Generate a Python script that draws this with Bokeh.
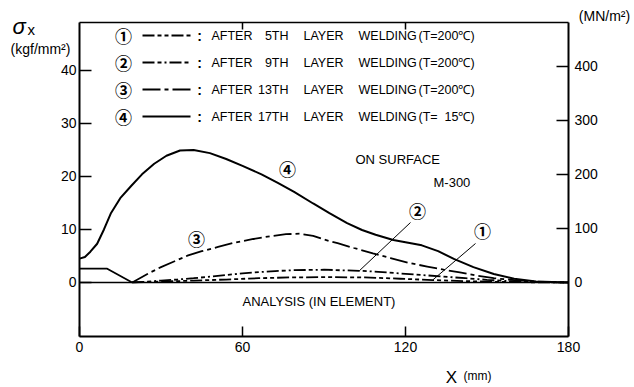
from bokeh.plotting import figure
from bokeh.models import Range1d, LinearAxis, FixedTicker, Label
from bokeh.embed import file_html
from bokeh.resources import INLINE

# Residual stress sigma_x (kgf/mm^2) along X (mm), M-300, on surface
initial_x = [0, 10.2, 19.4]
initial_y = [2.6, 2.6, 0.0]

x5 = [19.4, 30, 42, 54, 66, 78, 92, 105, 118, 130, 142, 155, 168, 180]
y5 = [0, 0.15, 0.35, 0.55, 0.8, 0.95, 1.0, 0.95, 0.7, 0.45, 0.25, 0.1, 0.03, 0]

x9 = [19.4, 25, 30, 36, 42, 48, 54, 60, 66, 72, 78, 84, 90, 96, 103, 110, 118,
      126, 134, 142, 150, 158, 166, 173, 180]
y9 = [0, 0.15, 0.35, 0.55, 0.8, 1.1, 1.4, 1.7, 1.95, 2.15, 2.3, 2.35, 2.4, 2.3,
      2.2, 2.0, 1.7, 1.4, 1.1, 0.8, 0.5, 0.25, 0.1, 0.04, 0]

x13 = [19.4, 25, 30, 35, 40, 45, 51, 57, 64, 70, 76, 81, 86, 90, 95, 101, 108,
       114.5, 121, 128, 134, 140, 146, 152.5, 160, 167, 174, 180]
y13 = [0, 1.6, 2.9, 4.0, 5.1, 5.9, 6.7, 7.5, 8.2, 8.7, 9.1, 9.2, 8.8, 8.1, 7.4,
       6.5, 5.5, 4.6, 3.7, 3.0, 2.4, 1.9, 1.3, 0.8, 0.45, 0.2, 0.07, 0]

x17 = [0, 2, 4, 6.5, 9, 11.5, 15, 19, 23, 27.5, 32, 37, 42, 48, 54, 60, 67, 73,
       79, 86, 92, 98.5, 104, 109, 115.5, 121, 126, 132, 138, 145, 152.5, 160,
       168, 180]
y17 = [4.5, 4.8, 5.8, 7.3, 10.0, 13.0, 15.9, 18.2, 20.4, 22.4, 23.9, 24.9, 25.0,
       24.4, 23.3, 22.0, 20.4, 18.8, 17.1, 14.9, 13.1, 11.2, 9.9, 9.0, 8.0, 7.5,
       7.0, 5.9, 4.4, 2.9, 1.6, 0.7, 0.2, 0]

circled = ["①", "②", "③", "④"]
layers = ["5TH", "9TH", "13TH", "17TH"]
temps = ["(T=200℃)", "(T=200℃)", "(T=200℃)", "(T=\u00a0\u00a015℃)"]
dashes = ["12 3 4 3 4 3", "12 3 4 3 2 3", "18 4 4 4", "solid"]

x_ticks = [0, 60, 120, 180]
y_ticks = [0, 10, 20, 30, 40]
mn_ticks = [0, 100, 200, 300, 400]
KGF_TO_MN = 9.8

# page geometry: the plotting box sits at px 79..568 x 22..336
W, H = 634, 387
BOX_L, BOX_R, BOX_T, BOX_B = 79, 568, 22, 336
X_MIN, X_MAX = 0, 180
Y_MIN, Y_MAX = -10.2, 49.05
FONT = "Liberation Sans"
CIRC_FONT = "Noto Sans CJK JP"


def dx(px):
    return X_MIN + (px - BOX_L) * (X_MAX - X_MIN) / (BOX_R - BOX_L)


def dy(py):
    return Y_MAX - (py - BOX_T) * (Y_MAX - Y_MIN) / (BOX_B - BOX_T)


# the frame fills the whole canvas; axes are pinned at the box edges
p = figure(width=W, height=H, output_backend="svg", toolbar_location=None,
           x_range=Range1d(dx(0), dx(W)), y_range=Range1d(dy(H), dy(0)),
           x_axis_type=None, y_axis_type=None,
           min_border_left=0, min_border_right=0, min_border_top=0,
           min_border_bottom=0)
p.background_fill_color = "white"
p.border_fill_color = "white"
p.outline_line_color = None
p.xgrid.visible = False
p.ygrid.visible = False
p.extra_y_ranges = {"mn": Range1d(dy(H) * KGF_TO_MN, dy(0) * KGF_TO_MN)}


def make_axis(ticks, tick_in, standoff, fixed, bounds, size="14px", width=2, **kw):
    ax = LinearAxis(ticker=FixedTicker(ticks=ticks), fixed_location=fixed,
                    bounds=bounds, **kw)
    ax.major_tick_in = tick_in
    ax.major_tick_out = 0
    ax.minor_tick_in = 0
    ax.minor_tick_out = 0
    ax.axis_line_width = width
    ax.axis_line_color = "black"
    ax.major_tick_line_width = 1.5
    ax.major_tick_line_color = "black"
    ax.major_label_standoff = standoff
    ax.major_label_text_font = FONT
    ax.major_label_text_font_size = size
    ax.major_label_text_color = "black"
    return ax


p.add_layout(make_axis(x_ticks, 10, 5, Y_MIN, (X_MIN, X_MAX)), "below")
p.add_layout(make_axis(y_ticks, 12, 3, X_MIN, (Y_MIN, Y_MAX)), "left")
p.add_layout(make_axis(mn_ticks, 12, 6, X_MAX,
                       (Y_MIN * KGF_TO_MN, Y_MAX * KGF_TO_MN),
                       y_range_name="mn"), "right")

# top edge of the box with short inward ticks at the inner x ticks
p.line([X_MIN, X_MAX], [Y_MAX, Y_MAX], line_color="black", line_width=1.5)
inner = x_ticks[1:-1]
p.segment(x0=inner, y0=[Y_MAX] * len(inner), x1=inner,
          y1=[dy(BOX_T + 7)] * len(inner), line_color="black", line_width=1.5)

# zero line
p.line([X_MIN, X_MAX], [0, 0], line_color="black", line_width=1.5)

# curves
p.line(initial_x, initial_y, line_color="black", line_width=1.8)
p.line(x5, y5, line_color="black", line_width=1.8, line_dash=dashes[0])
p.line(x9, y9, line_color="black", line_width=1.8, line_dash=dashes[1])
p.line(x13, y13, line_color="black", line_width=1.8, line_dash=dashes[2])
p.line(x17, y17, line_color="black", line_width=2)


def add_text(text, px, py, size="13px", align="left", font=FONT, style="normal"):
    p.add_layout(Label(x=dx(px), y=dy(py), text=text, text_font=font,
                       text_font_size=size, text_align=align,
                       text_baseline="middle", text_color="black",
                       text_font_style=style))


# key
row_py = [35, 62, 89, 116]
for i in range(4):
    py = row_py[i]
    add_text(circled[i], 123, py, size="17px", align="center", font=CIRC_FONT,
             style="bold")
    p.line([dx(142), dx(190)], [dy(py), dy(py)], line_color="black",
           line_width=1.8, line_dash=dashes[i])
    add_text(":", 199, py, size="14px", align="center", style="bold")
    add_text("AFTER", 211, py, size="12.5px")
    add_text(layers[i], 288, py, size="12.5px", align="right")
    add_text("LAYER", 303, py, size="12.5px")
    add_text("WELDING", 358, py, size="12.5px")
    add_text(temps[i], 418, py, size="12.5px")

# in-plot notes
add_text("ON SURFACE", 355, 159)
add_text("M-300", 433, 182)
add_text("ANALYSIS (IN ELEMENT)", 242, 301)

# curve tags with leaders
add_text("④", 287, 168, size="17px", align="center", font=CIRC_FONT, style="bold")
add_text("③", 196, 238, size="17px", align="center", font=CIRC_FONT, style="bold")
add_text("②", 417, 210, size="17px", align="center", font=CIRC_FONT, style="bold")
add_text("①", 482, 230, size="17px", align="center", font=CIRC_FONT, style="bold")
p.line([dx(410), x9[14]], [dy(222), y9[14]], line_color="black", line_width=1)
p.line([dx(475), x5[9]], [dy(243), y5[9]], line_color="black", line_width=1)

# axis titles
add_text("σ", 12, 26, size="22px", style="italic")
add_text("x", 27, 29, size="15px")
add_text("(kgf/mm²)", 40, 48, size="14px", align="center")
add_text("(MN/m²)", 604, 15, size="14px", align="center")
add_text("X", 451, 377, size="17px", align="center")
add_text("(mm)", 463, 375, size="12px")

open("out.html", "w").write(file_html(p, INLINE))
